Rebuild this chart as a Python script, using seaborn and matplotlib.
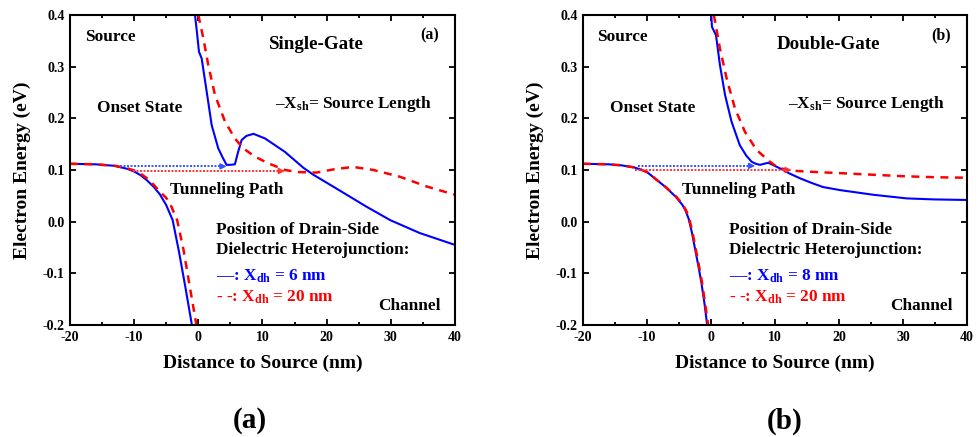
import matplotlib
matplotlib.use("Agg")
import matplotlib.pyplot as plt
import seaborn as sns

# ---------------- (a) Single-Gate ----------------
# valence band edge
sg_vb_x_6 = [-20, -16, -13, -11, -10, -9, -8, -7, -6, -5, -4, -3, -2, -1]
sg_vb_y_6 = [0.112, 0.111, 0.108, 0.102, 0.097, 0.090, 0.080, 0.068, 0.053, 0.032, 0.003, -0.059, -0.128, -0.200]
sg_vb_x_20 = [-20, -16, -13, -11, -10, -9, -8, -7, -6, -5, -4.3, -3.3, -2.3, -1.3, -0.3]
sg_vb_y_20 = [0.112, 0.111, 0.108, 0.103, 0.099, 0.093, 0.084, 0.072, 0.058, 0.046, 0.032, 0.003, -0.055, -0.128, -0.200]
# conduction band edge
sg_cb_x_6 = [-0.52, -0.2, 0.1, 0.52, 1.3, 2.08, 3.1, 3.8, 4.4, 5.0, 5.7, 6.2, 6.75, 7.5, 8.6,
             10.4, 13.5, 16.4, 17.9, 21.0, 24.2, 26.2, 29.9, 34.5, 40]
sg_cb_y_6 = [0.400, 0.365, 0.329, 0.316, 0.252, 0.187, 0.142, 0.124, 0.110, 0.110, 0.111, 0.135, 0.158, 0.166, 0.170,
             0.161, 0.135, 0.104, 0.091, 0.068, 0.044, 0.029, 0.003, -0.022, -0.045]
sg_cb_x_20 = [0.0, 0.78, 1.55, 2.6, 4.15, 5.7, 7.0, 8.8, 10.9, 13.5, 15.6, 18.4, 21.0, 24.1, 27.3, 31.4, 35.6, 40]
sg_cb_y_20 = [0.400, 0.355, 0.303, 0.245, 0.194, 0.161, 0.142, 0.126, 0.113, 0.100, 0.096, 0.095, 0.101, 0.106,
              0.100, 0.087, 0.068, 0.052]
# tunneling paths: start, end, energy
sg_tp_6 = (-12.2, 4.4, 0.107)
sg_tp_20 = (-10.2, 13.5, 0.098)

# ---------------- (b) Double-Gate ----------------
dg_vb_x_8 = [-20, -16, -14, -12, -11, -10, -8.5, -7, -5.5, -4.5, -4.0, -3.5, -3.0, -2.5, -2.0, -1.5, -1.0, -0.6]
dg_vb_y_8 = [0.112, 0.111, 0.109, 0.105, 0.101, 0.096, 0.081, 0.066, 0.048, 0.033, 0.022, 0.006, -0.020, -0.052,
             -0.084, -0.118, -0.160, -0.200]
dg_vb_x_20 = [-20, -16, -14, -12, -11, -10, -8.5, -7, -5.4, -4.4, -3.9, -3.4, -2.9, -2.4, -1.9, -1.4, -0.9, -0.45]
dg_vb_y_20 = [0.112, 0.111, 0.109, 0.105, 0.101, 0.096, 0.081, 0.066, 0.048, 0.033, 0.022, 0.006, -0.020, -0.052,
              -0.084, -0.118, -0.160, -0.200]
dg_cb_x_8 = [0.05, 0.15, 0.78, 1.4, 2.2, 3.2, 4.5, 5.5, 6.35, 7.0, 7.65, 8.3, 8.95, 9.8, 10.8, 12.3, 13.9,
             15.5, 17.5, 20.2, 25.4, 30.6, 35, 40]
dg_cb_y_8 = [0.400, 0.377, 0.361, 0.303, 0.245, 0.194, 0.148, 0.128, 0.116, 0.112, 0.110, 0.112, 0.114, 0.109,
             0.103, 0.093, 0.084, 0.076, 0.067, 0.061, 0.052, 0.045, 0.043, 0.042]
dg_cb_x_20 = [0.45, 1.4, 2.45, 3.75, 5.3, 7.1, 9.2, 10.3, 11.8, 13.5, 16.5, 20, 25, 30, 35, 40]
dg_cb_y_20 = [0.400, 0.335, 0.277, 0.219, 0.174, 0.139, 0.116, 0.106, 0.100, 0.098, 0.096, 0.094, 0.091, 0.088,
              0.086, 0.085]
dg_tp_8 = (-11.4, 6.9, 0.108)
dg_tp_20 = (-11.8, 12.6, 0.100)

x_ticks = [-20, -10, 0, 10, 20, 30, 40]
y_ticks = [-0.2, -0.1, 0.0, 0.1, 0.2, 0.3, 0.4]

BLUE = "#0000ff"
RED = "#ff0000"

sns.set_theme(style="ticks")
plt.rcParams.update({
    "font.family": ["Liberation Serif", "DejaVu Serif"],
    "font.weight": "bold",
    "axes.unicode_minus": False,
    "mathtext.fontset": "custom",
    "mathtext.rm": "Liberation Serif:bold",
    "mathtext.it": "Liberation Serif:bold",
    "mathtext.bf": "Liberation Serif:bold",
    "axes.linewidth": 1.5,
    "axes.edgecolor": "black",
    "text.color": "black",
    "axes.labelcolor": "black",
    "xtick.color": "black",
    "ytick.color": "black",
})

fig = plt.figure(figsize=(9.8, 4.37), dpi=100)
ax_a = fig.add_axes([0.0714, 0.2563, 0.3929, 0.7094])
ax_b = fig.add_axes([0.5949, 0.2563, 0.3918, 0.7094])


def draw_panel(ax, vb6, vb20, cb6, cb20, tp6, tp20):
    for (xs, ys) in (vb6, cb6):
        sns.lineplot(x=xs, y=ys, sort=False, estimator=None, color=BLUE, linewidth=1.5, ax=ax)
    for (xs, ys) in (vb20, cb20):
        sns.lineplot(x=xs, y=ys, sort=False, estimator=None, color=RED, linewidth=1.8,
                     linestyle=(0, (3.2, 2.6)), ax=ax)
    for (x0, x1, e), col in ((tp6, "#3355ff"), (tp20, "#ff3333")):
        sns.lineplot(x=[x0, x1 - 0.6], y=[e, e], color=col, linewidth=1.4,
                     linestyle=(0, (1, 0.8)), ax=ax)
        ax.annotate("", xy=(x1, e), xytext=(x1 - 1.2, e),
                    arrowprops=dict(arrowstyle="-|>", color=col, lw=1.0,
                                    mutation_scale=9, shrinkA=0, shrinkB=0))
    ax.set_xlim(-20, 40)
    ax.set_ylim(-0.2, 0.4)
    ax.set_xticks(x_ticks)
    ax.set_xticks([-15, -5, 5, 15, 25, 35], minor=True)
    ax.set_yticks(y_ticks)
    ax.set_xticklabels([str(v) for v in x_ticks])
    ax.set_yticklabels([f"{v:.1f}" for v in y_ticks])
    ax.tick_params(which="both", direction="in", top=True, right=True,
                   labelsize=10, width=1.3, pad=4)
    ax.tick_params(which="major", length=4)
    ax.tick_params(which="minor", length=2.5)
    for sp in ax.spines.values():
        sp.set_visible(True)
        sp.set_linewidth(1.5)
    ax.set_xlabel("Distance to Source (nm)", fontsize=14, fontweight="bold", labelpad=8)
    ax.set_ylabel("Electron Energy (eV)", fontsize=14, fontweight="bold", labelpad=8)


draw_panel(ax_a, (sg_vb_x_6, sg_vb_y_6), (sg_vb_x_20, sg_vb_y_20),
           (sg_cb_x_6, sg_cb_y_6), (sg_cb_x_20, sg_cb_y_20), sg_tp_6, sg_tp_20)
draw_panel(ax_b, (dg_vb_x_8, dg_vb_y_8), (dg_vb_x_20, dg_vb_y_20),
           (dg_cb_x_8, dg_cb_y_8), (dg_cb_x_20, dg_cb_y_20), dg_tp_8, dg_tp_20)

FS = 12.4


def annotate_panel(ax, gate, tag, xdh, dx):
    t = dict(fontsize=FS, fontweight="bold", va="center")
    ax.text(-17.7 + dx, 0.357, "Source", ha="left", **t)
    ax.text(11.0 + (0 if gate == "Single-Gate" else -0.7), 0.342, gate, ha="left",
            fontsize=FS + 1.3, fontweight="bold", va="center")
    ax.text(37.5, 0.361, tag, ha="right", fontsize=FS - 1, fontweight="bold", va="center")
    ax.text(-15.8, 0.220, "Onset State", ha="left", **t)
    ax.text(12.0, 0.228, "–X$_{\\rm sh}$= Source Length", ha="left", **t)
    ax.text(-4.4 + dx, 0.061, "Tunneling Path", ha="left", **t)
    ax.text(2.75, -0.016, "Position of Drain-Side", ha="left", **t)
    ax.text(2.75, -0.055, "Dielectric Heterojunction:", ha="left", **t)
    ax.text(2.75, -0.105, "—: X$_{\\rm dh}$ = " + xdh + " nm", ha="left", color=BLUE, **t)
    ax.text(2.75, -0.146, "- -: X$_{\\rm dh}$ = 20 nm", ha="left", color=RED, **t)
    ax.text(37.7, -0.163, "Channel", ha="right", **t)


annotate_panel(ax_a, "Single-Gate", "(a)", "6", 0.0)
annotate_panel(ax_b, "Double-Gate", "(b)", "8", -0.1)

fig.text(250 / 980, 1 - 421 / 437, "(a)", ha="center", va="center", fontsize=21, fontweight="bold")
fig.text(785 / 980, 1 - 421 / 437, "(b)", ha="center", va="center", fontsize=21, fontweight="bold")

fig.savefig("out.png", dpi=100)
